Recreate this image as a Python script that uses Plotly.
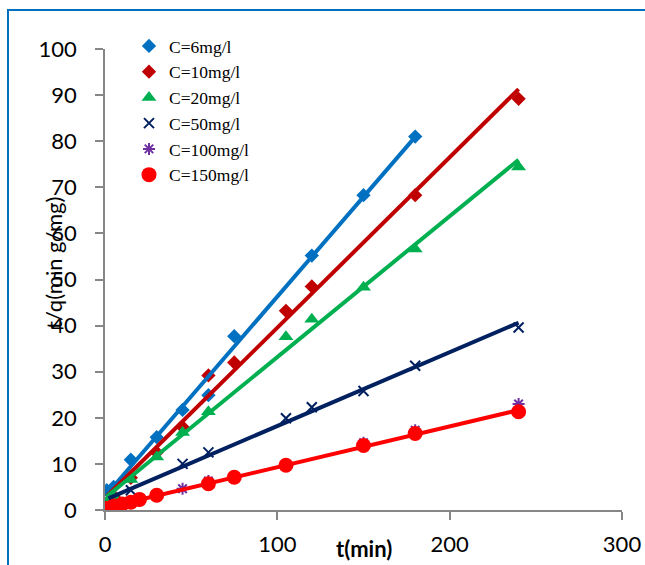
import numpy as np
import plotly.graph_objects as go

# ---------------- data ----------------
series_names = ["C=6mg/l", "C=10mg/l", "C=20mg/l", "C=50mg/l", "C=100mg/l", "C=150mg/l"]

t_c6 = [1, 5, 15, 30, 45, 60, 75, 120, 150, 180]
y_c6 = [4.3, 5.0, 10.9, 15.8, 21.7, 24.9, 37.7, 55.2, 68.3, 81.0]

t_c10 = [1, 5, 15, 30, 45, 60, 75, 105, 120, 180, 240]
y_c10 = [1.5, 3.0, 7.0, 12.5, 18.0, 29.2, 32.0, 43.2, 48.5, 68.3, 89.2]

t_c20 = [1, 5, 15, 30, 45, 60, 105, 120, 150, 180, 240]
y_c20 = [1.8, 3.0, 6.6, 11.5, 16.8, 21.3, 37.6, 41.4, 48.3, 56.6, 74.4]

t_c50 = [2, 15, 45, 60, 105, 120, 150, 180, 240]
y_c50 = [1.0, 4.3, 10.0, 12.5, 19.9, 22.3, 25.8, 31.3, 39.6]

t_c100 = [2, 5, 10, 20, 45, 60, 150, 180, 240]
y_c100 = [0.3, 0.6, 1.0, 2.0, 4.6, 6.3, 14.6, 17.3, 23.0]

t_c150 = [1, 5, 10, 15, 20, 30, 60, 75, 105, 150, 180, 240]
y_c150 = [0.3, 0.9, 1.3, 1.7, 2.3, 3.2, 5.7, 7.1, 9.7, 14.0, 16.6, 21.3]

x_ticks = [0, 100, 200, 300]
y_ticks = [0, 10, 20, 30, 40, 50, 60, 70, 80, 90, 100]

x_title = "t(min)"
y_title = "t/q(min g/mg)"

# ---------------- styles ----------------
all_t = [t_c6, t_c10, t_c20, t_c50, t_c100, t_c150]
all_y = [y_c6, y_c10, y_c20, y_c50, y_c100, y_c150]
colors = ["#0070C0", "#C00000", "#00B050", "#002060", "#7030A0", "#FF0000"]
symbols = ["diamond", "diamond", "triangle-up", "x-thin-open", "asterisk-open", "circle"]
sizes = [11, 11, 13, 10, 10, 15]
has_trend = [True, True, True, True, False, True]

fig = go.Figure()

for name, t, y, c, s, sz in zip(series_names, all_t, all_y, colors, symbols, sizes):
    open_sym = s.endswith("open")
    fig.add_trace(go.Scatter(
        x=t, y=y, mode="markers", name=name,
        marker=dict(symbol=s, size=sz, color=c,
                    line=dict(width=2 if open_sym else 0, color=c)),
    ))

# linear trendlines (least squares fit of each series)
for t, y, c, tr in zip(all_t, all_y, colors, has_trend):
    if not tr:
        continue
    k, b = np.polyfit(t, y, 1)
    xs = np.array([min(t), max(t)])
    fig.add_trace(go.Scatter(
        x=xs, y=k * xs + b, mode="lines", showlegend=False, hoverinfo="skip",
        line=dict(color=c, width=4),
    ))

L, R, T, B = 105, 23, 49, 55
W, H = 645, 565
pw, ph = W - L - R, H - T - B

def px_x(p):
    return (p - L) / pw

def px_y(p):
    return (H - B - p) / ph

axis_common = dict(
    showgrid=False, zeroline=False, showline=True, linecolor="#868686", linewidth=1.5,
    ticks="outside", ticklen=8, tickwidth=1.5, tickcolor="#868686",
    tickfont=dict(family="Lato", size=22, color="#000000"),
    automargin=False,
)

fig.update_layout(
    width=W, height=H,
    margin=dict(l=L, r=R, t=T, b=B, autoexpand=False),
    paper_bgcolor="white", plot_bgcolor="white",
    xaxis=dict(range=[0, 300], tickvals=x_ticks, ticklabelstandoff=6, **axis_common),
    yaxis=dict(range=[0, 100], tickvals=y_ticks, ticklabelstandoff=14, **axis_common),
    showlegend=True,
    legend=dict(
        x=px_x(129), y=px_y(28), xanchor="left", yanchor="top",
        bgcolor="rgba(0,0,0,0)", borderwidth=0,
        font=dict(family="Liberation Serif", size=17.5, color="#000000"),
        itemsizing="trace",
    ),
    annotations=[
        dict(text=x_title, xref="paper", yref="paper", x=px_x(364), y=px_y(533),
             xanchor="center", yanchor="top", showarrow=False,
             font=dict(family="Lato", size=22, color="#000000", weight="bold")),
        dict(text=y_title, xref="paper", yref="paper", x=px_x(53), y=px_y(263),
             xanchor="center", yanchor="middle", showarrow=False, textangle=-90,
             font=dict(family="Lato", size=22, color="#000000")),
    ],
    shapes=[
        dict(type="rect", xref="paper", yref="paper",
             x0=px_x(8), x1=px_x(700), y0=px_y(620), y1=px_y(10),
             line=dict(color="#0070C0", width=2), fillcolor="rgba(0,0,0,0)", layer="below"),
    ],
)

fig.write_html(
    "out.html",
    config={"displayModeBar": False},
    post_script="document.body.style.margin='0';document.body.style.overflow='hidden';",
)
